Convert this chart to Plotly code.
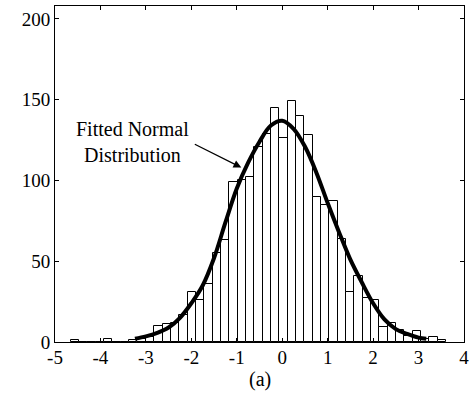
import numpy as np
import plotly.graph_objects as go

# Histogram data
bin_start = -4.653
bin_width = 0.1835
counts = [1, 0, 0, 0, 2, 0, 0, 1, 2, 3,
          10, 11, 12, 17, 31, 26, 36, 55, 63, 99,
          100, 102, 121, 129, 145, 126, 149, 140, 128, 90,
          85, 87, 64, 31, 41, 27, 26, 9, 12, 7.5,
          3.5, 7, 2, 3, 1]

# Fitted normal curve
curve_x = [-3.24, -3.0, -2.75, -2.5, -2.25, -2.0, -1.75, -1.5, -1.25, -1.0,
           -0.75, -0.5, -0.25, 0.0, 0.25, 0.5, 0.75, 1.0, 1.25, 1.5,
           1.75, 2.0, 2.25, 2.5, 2.75, 3.0, 3.17]
curve_y = [2, 3.5, 5.7, 9, 15, 24, 35, 52, 74, 95,
           111, 124, 134, 137, 132, 121, 105, 86, 68, 51,
           37, 24, 14, 8, 5, 2.7, 2]

x_ticks = [-5, -4, -3, -2, -1, 0, 1, 2, 3, 4]
x_tick_labels = ["-5", "-4", "-3", "-2", "-1", "0", "1", "2", "3", "4"]
y_ticks = [0, 50, 100, 150, 200]
y_tick_labels = ["0", "50", "100", "150", "200"]

centers = bin_start + bin_width * (np.arange(len(counts)) + 0.5)

FONT = "Liberation Serif, Times New Roman, serif"

fig = go.Figure()
fig.add_trace(go.Bar(
    x=centers, y=counts, width=bin_width,
    marker=dict(color="white", line=dict(color="black", width=1)),
    showlegend=False, hoverinfo="skip",
))
fig.add_trace(go.Scatter(
    x=curve_x, y=curve_y, mode="lines",
    line=dict(color="black", width=4, shape="spline"),
    showlegend=False, hoverinfo="skip",
))

fig.add_annotation(
    x=-0.9, y=108, xref="x", yref="y",
    ax=-48, ay=-24, axref="pixel", ayref="pixel",
    text="", showarrow=True, arrowhead=2, arrowsize=1.2,
    arrowwidth=1.3, arrowcolor="black",
)
fig.add_annotation(
    x=-3.3, y=124, xref="x", yref="y",
    text="Fitted Normal<br>Distribution", showarrow=False,
    font=dict(family=FONT, size=20, color="black"),
    align="center",
)
fig.add_annotation(
    x=0.5, y=-0.113, xref="paper", yref="paper",
    text="(a)", showarrow=False, yanchor="middle",
    font=dict(family=FONT, size=20, color="black"),
)

axis_common = dict(
    showline=True, linecolor="black", linewidth=1, mirror="ticks",
    ticks="inside", ticklen=4, tickcolor="black",
    showgrid=False, zeroline=False,
    tickfont=dict(family=FONT, size=19, color="black"),
    ticklabeloverflow="allow",
)
fig.update_xaxes(range=[-5, 4], tickvals=x_ticks, ticktext=x_tick_labels,
                 ticklabelstandoff=-2, **axis_common)
fig.update_yaxes(range=[0, 208], tickvals=y_ticks, ticktext=y_tick_labels, **axis_common)

fig.update_layout(
    width=474, height=402,
    margin=dict(l=55, r=8, t=5, b=60),
    paper_bgcolor="white", plot_bgcolor="white",
    bargap=0,
)
fig.write_html("out.html", config={"displayModeBar": False},
               post_script="document.body.style.margin='0';")
